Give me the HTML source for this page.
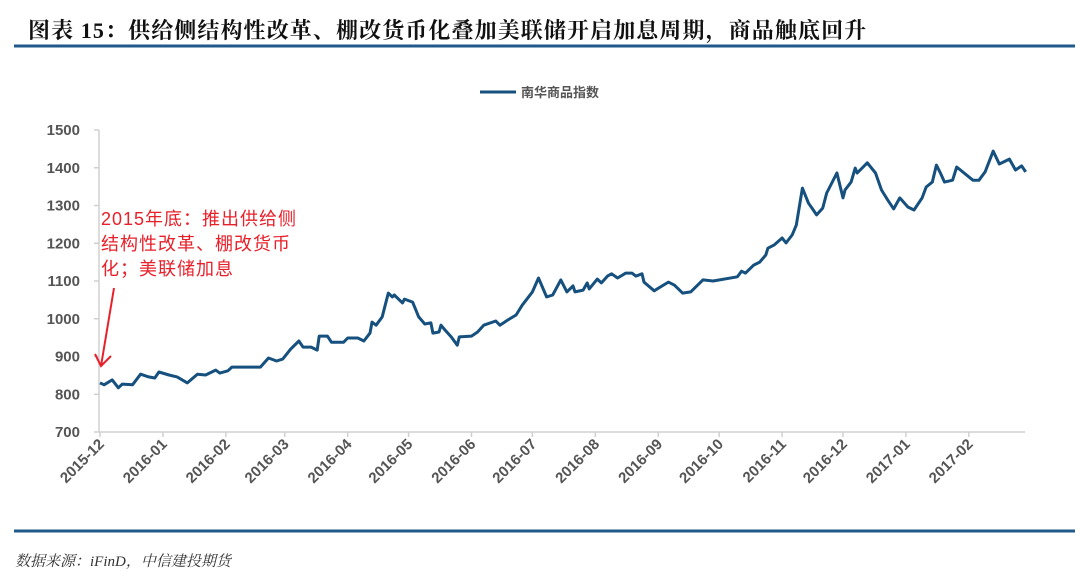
<!DOCTYPE html>
<html><head><meta charset="utf-8"><style>
html,body{margin:0;padding:0;background:#fff;}
body{width:1080px;height:579px;position:relative;overflow:hidden;font-family:"Liberation Sans","Noto Sans CJK SC",sans-serif;}
#title{position:absolute;left:28px;top:14px;font-family:"Liberation Serif","Noto Serif CJK SC",serif;font-weight:bold;font-size:22px;color:#111;white-space:nowrap;letter-spacing:1.1px;}
#src{position:absolute;left:15px;top:550px;font-family:"Liberation Serif","Noto Serif CJK SC",serif;font-style:italic;font-size:15px;color:#333;}
svg{position:absolute;left:0;top:0;}
</style></head><body>
<div id="title">图表 15：供给侧结构性改革、棚改货币化叠加美联储开启加息周期，商品触底回升</div>
<div id="src">数据来源：iFinD，中信建投期货</div>
<svg id="chart" width="1080" height="579"></svg>
<script>
const days=[0,2,6,9,11,16,20,24,27,29,34,38,43,48,52,57,59,63,65,77,79,83,87,90,94,98,100,104,107,108,112,114,120,122,127,130,133,134,136,139,142,144,145,149,150,154,157,160,163,164,167,168,170,173,176,177,183,186,189,195,197,201,205,208,213,216,220,223,227,230,233,234,238,240,241,245,247,250,252,255,259,262,264,267,268,273,276,280,283,287,291,297,302,314,316,318,322,325,328,329,332,336,338,341,343,346,349,351,353,356,358,363,366,367,370,372,373,378,382,385,388,391,394,398,401,405,407,410,412,414,416,420,422,430,433,436,440,443,448,451,454,456];
const values=[830,825,838,817,827,825,853,846,843,859,851,846,830,853,851,864,856,862,872,872,872,896,888,893,920,941,925,925,917,954,954,938,938,949,949,941,962,991,983,1005,1068,1058,1063,1042,1052,1044,1005,986,989,962,965,983,970,952,930,952,954,965,983,994,983,997,1010,1036,1071,1108,1058,1063,1103,1071,1087,1071,1076,1095,1079,1105,1095,1113,1119,1108,1121,1121,1113,1119,1097,1074,1084,1097,1089,1068,1071,1103,1100,1111,1126,1121,1142,1150,1169,1187,1195,1214,1201,1222,1248,1346,1306,1291,1275,1293,1333,1386,1320,1341,1362,1399,1386,1413,1386,1341,1315,1291,1320,1296,1288,1320,1349,1362,1407,1386,1362,1367,1402,1367,1367,1389,1444,1410,1423,1394,1405,1389];
const yTicks=[700,800,900,1000,1100,1200,1300,1400,1500];
const xTickLabels=["2015-12","2016-01","2016-02","2016-03","2016-04","2016-05","2016-06","2016-07","2016-08","2016-09","2016-10","2016-11","2016-12","2017-01","2017-02"];
const xTickDays=[0,31,62,91,122,152,183,213,244,275,305,336,366,397,428];

const NS="http://www.w3.org/2000/svg";
const svg=document.getElementById('chart');
const X0=100,PXD=2.03,Y0=432,PXV=0.3775;
const xs=d=>X0+d*PXD;
const ys=v=>Y0-(v-700)*PXV;
function mk(t,a,p){const e=document.createElementNS(NS,t);for(const k in a)e.setAttribute(k,a[k]);(p||svg).appendChild(e);return e;}

let e;
e=mk('rect',{x:14,y:44.5,width:1061,height:3,fill:'#1f5a8a'});


e=mk('rect',{x:14,y:529.5,width:1061,height:3,fill:'#1f5a8a'});



e=mk('line',{x1:99,y1:ys(1500),x2:99,y2:Y0,stroke:'#d0d0d0','stroke-width':1.5});


e=mk('line',{x1:99,y1:Y0,x2:1025,y2:Y0,stroke:'#d0d0d0','stroke-width':1.5});



yTicks.forEach(v=>{
  const y=ys(v);
  e=mk('line',{x1:94,y1:y,x2:99,y2:y,stroke:'#d0d0d0','stroke-width':1.5});
  
  
  e=mk('text',{x:80,y:y+5,'text-anchor':'end','font-size':15,'font-weight':'bold',fill:'#555'});
  e.textContent=v;
  
  
});
xTickDays.forEach((d,i)=>{
  const x=xs(d);
  e=mk('line',{x1:x,y1:Y0,x2:x,y2:Y0+5,stroke:'#d0d0d0','stroke-width':1.5});
  
  
  e=mk('text',{x:x+5,y:Y0+13,'text-anchor':'end','font-size':15,'font-weight':'bold',fill:'#555',transform:`rotate(-45 ${x+5} ${Y0+13})`});
  e.textContent=xTickLabels[i];
  
  
});

let d='';
days.forEach((dd,i)=>{d+=(i?'L':'M')+xs(dd).toFixed(1)+' '+ys(values[i]).toFixed(1);});
e=mk('path',{d:d,fill:'none',stroke:'#15507e','stroke-width':3,'stroke-linejoin':'round'});



e=mk('line',{x1:480,y1:92,x2:516,y2:92,stroke:'#15507e','stroke-width':3});


e=mk('text',{x:521,y:97,'font-size':13,'font-weight':'bold',fill:'#555'});
e.textContent='南华商品指数';



const ann=['2015年底：推出供给侧','结构性改革、棚改货币','化；美联储加息'];
ann.forEach((t,i)=>{
  e=mk('text',{x:101,y:225+i*25,'font-size':18,fill:'#e8202a','font-family':'"Liberation Sans","Noto Sans CJK SC",sans-serif','letter-spacing':'1'});
  e.textContent=t;
  
  
});
e=mk('path',{d:'M114 288 L101 366 M95 354 L101 366 L111 356',fill:'none',stroke:'#e8202a','stroke-width':2});


</script>
</body></html>
